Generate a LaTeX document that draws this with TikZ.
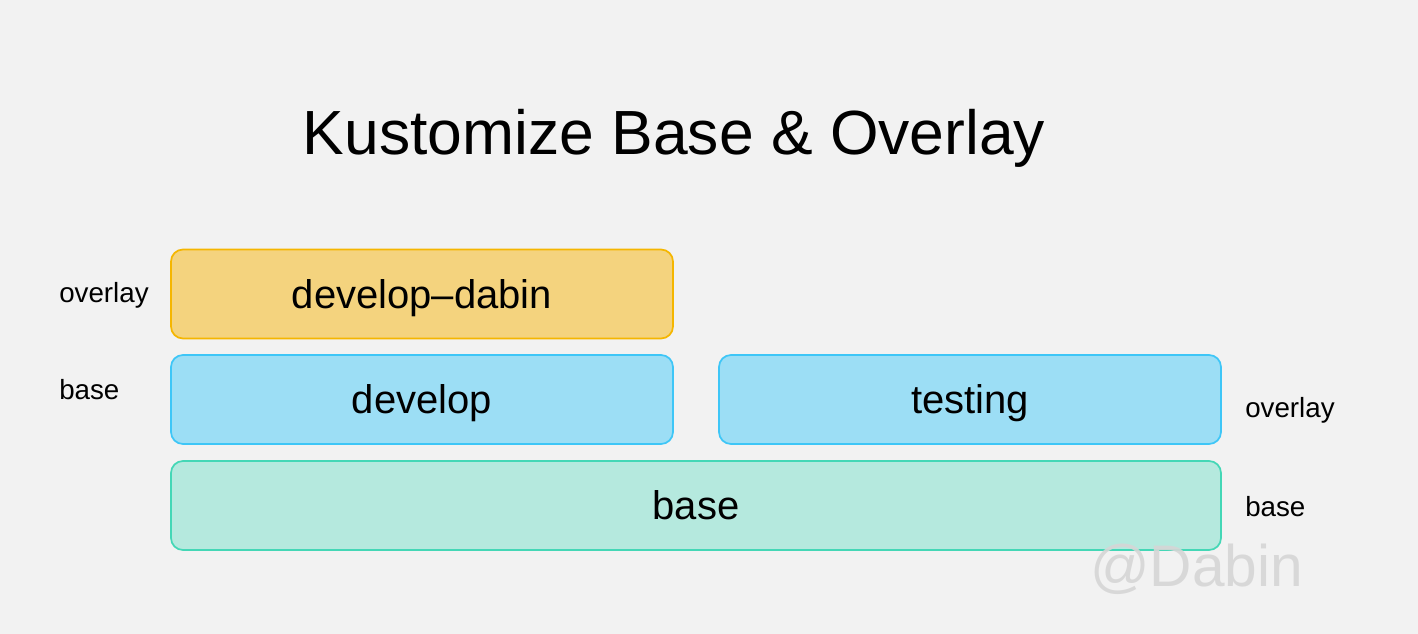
\documentclass[tikz,border=0pt]{standalone}
\usepackage{fontspec}
\setmainfont{Liberation Sans}
\usepackage{tikz}

\definecolor{bggray}{HTML}{F2F2F2}
\definecolor{ovlfill}{HTML}{F4D37E}
\definecolor{ovldraw}{HTML}{F5B600}
\definecolor{devfill}{HTML}{9CDEF5}
\definecolor{devdraw}{HTML}{3EC6F7}
\definecolor{basefill}{HTML}{B5E9DE}
\definecolor{basedraw}{HTML}{44D7B6}
\definecolor{markgray}{HTML}{D6D6D6}

\begin{document}
\begin{tikzpicture}[x=0.75pt,y=-0.75pt,
  layer/.style={rounded corners=9pt,line width=1.3pt,minimum height=66.75pt,
    font=\fontsize{30}{36}\selectfont,inner sep=0pt,text depth=0pt},
  half/.style={layer,minimum width=376.5pt},
  side/.style={anchor=west,font=\fontsize{20.8}{24}\selectfont,inner sep=0pt}]
\fill [bggray] (0,0) rectangle (1418,634);
\useasboundingbox (0,0) rectangle (1418,634);
\node [anchor=base,font=\fontsize{46.8}{54}\selectfont] (title) at (674,155) {Kustomize Base \& Overlay};
\node [half,fill=ovlfill,draw=ovldraw] (devdabin) at (422,294) {develop--dabin};
\node [half,fill=devfill,draw=devdraw] (develop) at (422,399.5) {develop};
\node [half,fill=devfill,draw=devdraw] (testing) at (970,399.5) {testing};
\node [layer,minimum width=787.5pt,fill=basefill,draw=basedraw] (base) at (696,505.5) {base};
\node [side] (lovl) at (59,295) {overlay};
\node [side] (lbase) at (59,390) {base};
\node [side] (rovl) at (1245,410) {overlay};
\node [side] (rbase) at (1245,507) {base};
% watermark
\node [anchor=base west,inner sep=0pt,text=markgray,text opacity=0.9,
  font=\fontsize{44}{50}\selectfont] (mark) at (1090,586) {@Dabin};
\end{tikzpicture}
\end{document}
